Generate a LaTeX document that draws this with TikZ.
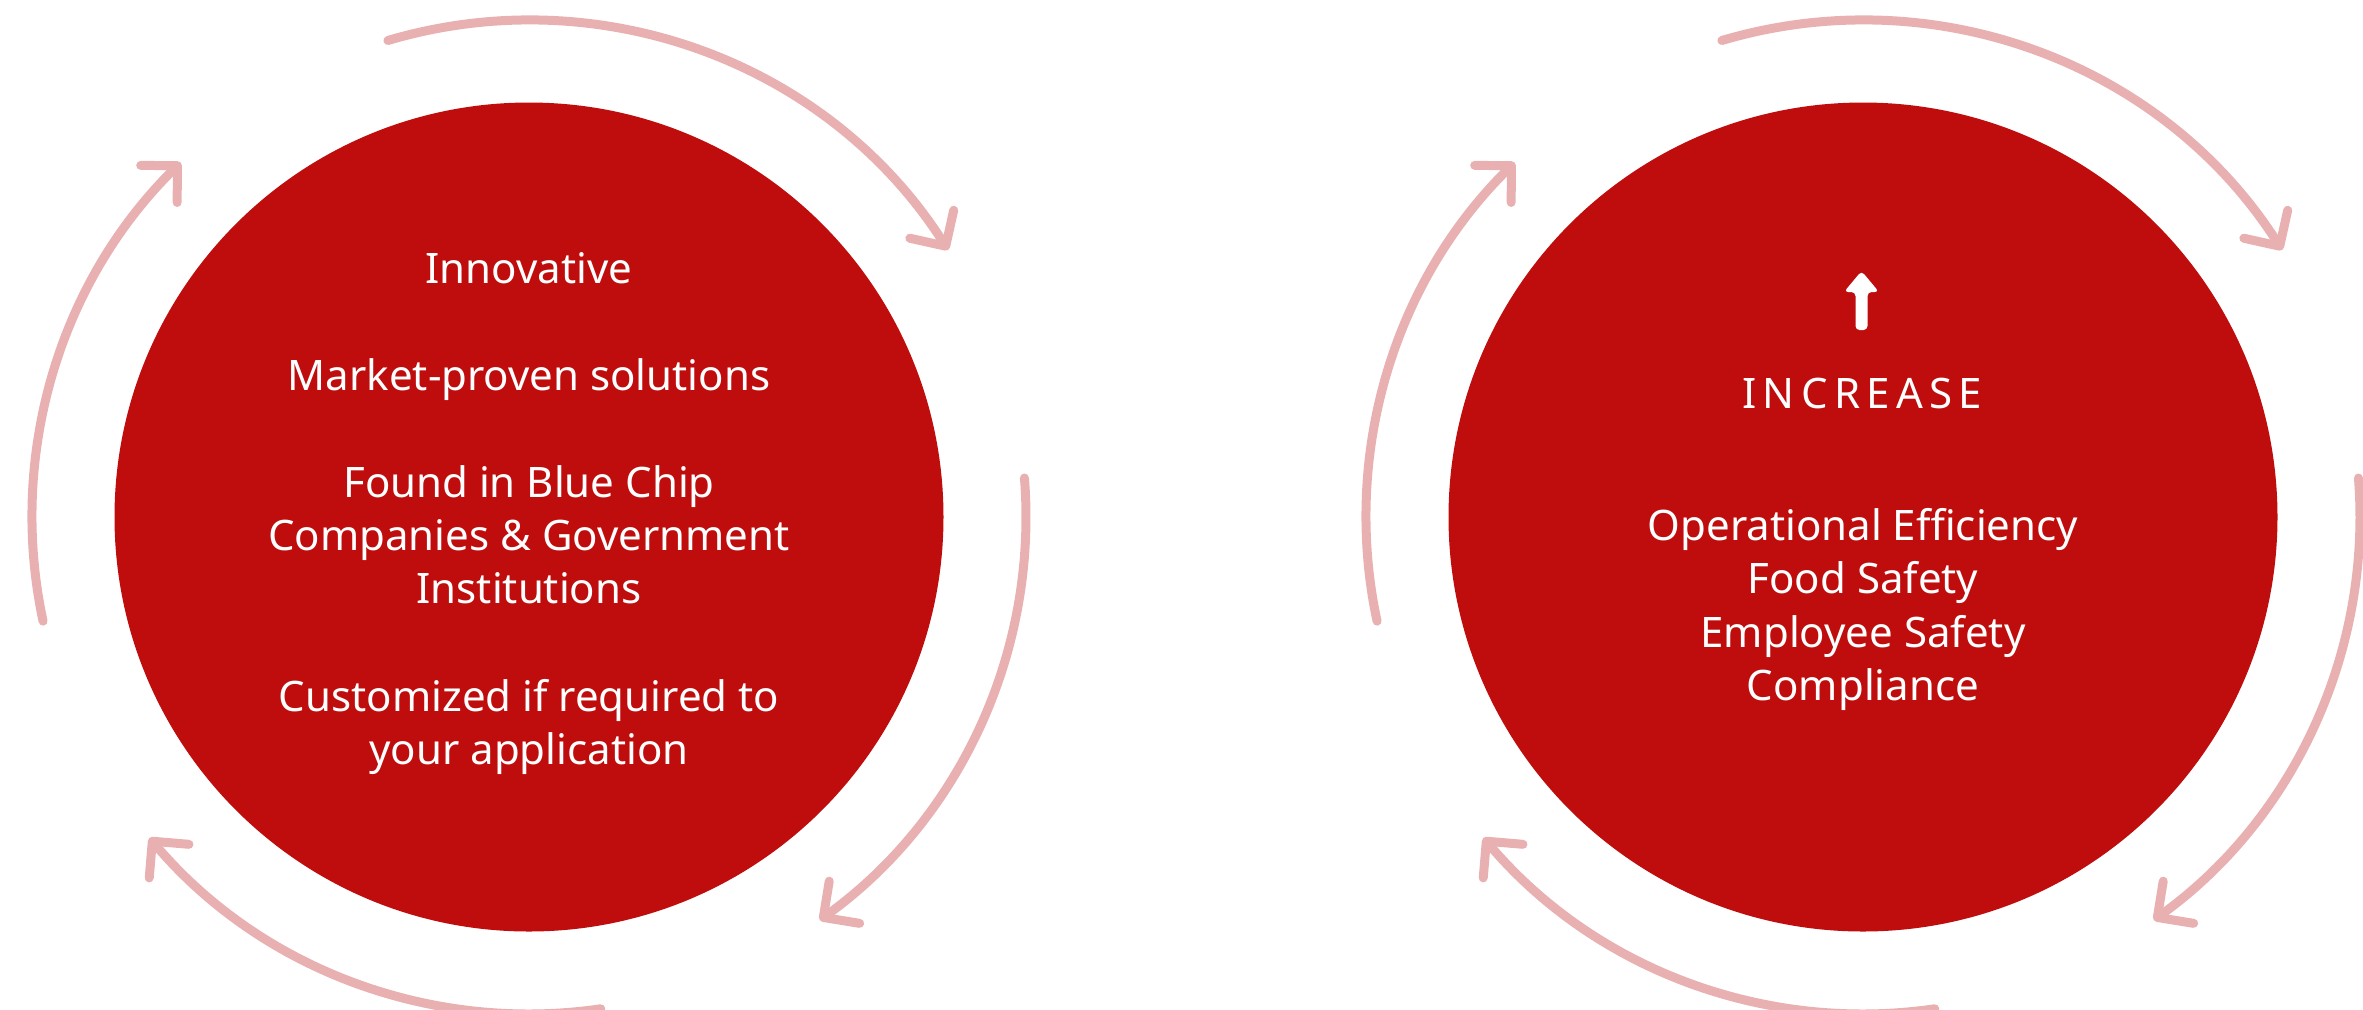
\documentclass[tikz,border=0pt]{standalone}
\usepackage{fontspec}
\setmainfont{Noto Sans}
\usetikzlibrary{arrows.meta}

\definecolor{discred}{RGB}{190,13,12}
\definecolor{ringpink}{RGB}{232,176,176}

\begin{document}
\begin{tikzpicture}[x=0.5pt,y=0.5pt,yscale=-1,xscale=1,
  disc/.style={fill=discred},
  ring/.style={draw=ringpink, line width=4.5pt, line cap=round,
    -{Straight Barb[length=13pt,width=26pt,round]}},
  txt/.style={text=white, font=\fontsize{21}{26}\selectfont, inner sep=0pt, anchor=base}]
\useasboundingbox (0,0) rectangle (2363,1009);

\coordinate (lc) at (529,517);
\coordinate (rc) at (1863,517);

%Shape: Circle left
\fill [disc] (lc) circle (414.5);
%Shape: Circle right
\fill [disc] (rc) circle (414.5);

%Arcs round the left circle
\draw [ring] ([shift={(-106.5:497)}]lc) arc [start angle=-106.5, end angle=-32.5, radius=497];
\draw [ring] ([shift={(-4.5:497)}]lc) arc [start angle=-4.5, end angle=54.2, radius=497];
\draw [ring] ([shift={(81.7:497)}]lc) arc [start angle=81.7, end angle=139.8, radius=497];
\draw [ring] ([shift={(167.9:497)}]lc) arc [start angle=167.9, end angle=225.5, radius=497];

%Arcs round the right circle
\draw [ring] ([shift={(-106.5:497)}]rc) arc [start angle=-106.5, end angle=-32.5, radius=497];
\draw [ring] ([shift={(-4.5:497)}]rc) arc [start angle=-4.5, end angle=54.2, radius=497];
\draw [ring] ([shift={(81.7:497)}]rc) arc [start angle=81.7, end angle=139.8, radius=497];
\draw [ring] ([shift={(167.9:497)}]rc) arc [start angle=167.9, end angle=225.5, radius=497];

% Text Nodes left
\node [txt] (innov) at (529,283) {Innovative};
\node [txt] (market) at (529,390) {Market-proven solutions};
\node [txt] (found) at (529,497) {Found in Blue Chip};
\node [txt] (companies) at (529,550) {Companies \& Government};
\node [txt] (institutions) at (529,603) {Institutions};
\node [txt] (custom) at (529,711) {Customized if required to};
\node [txt] (yourapp) at (529,764) {your application};

%Shape: up arrow
\fill [white, rounded corners=2] (1855.5,330) -- (1855.5,292) -- (1844,292) -- (1861.5,271) -- (1879,292) -- (1867.5,292) -- (1867.5,330) -- cycle;

% Text Nodes right
\node [txt, font=\fontsize{21}{26}\selectfont\addfontfeature{LetterSpace=15}] (increase) at (1859,408) {INCREASE\kern-0.15em};
\node [txt] (operational) at (1863,540) {Operational Efficiency};
\node [txt] (food) at (1863,593) {Food Safety};
\node [txt] (employee) at (1863,647) {Employee Safety};
\node [txt] (compliance) at (1863,700) {Compliance};

\end{tikzpicture}
\end{document}
